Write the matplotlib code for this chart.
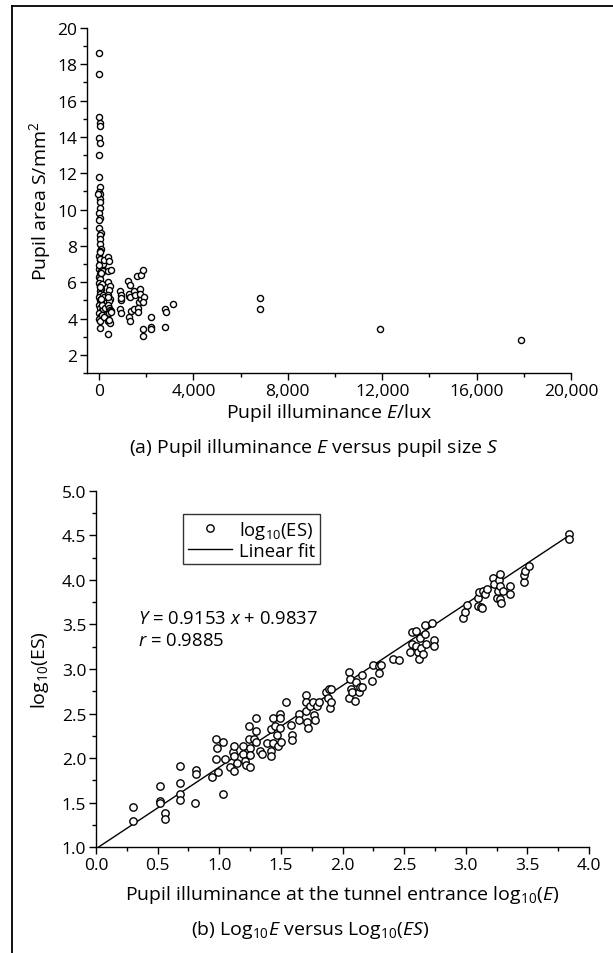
import matplotlib
matplotlib.use("Agg")
import matplotlib.pyplot as plt
from matplotlib.ticker import MultipleLocator, FuncFormatter
from matplotlib.lines import Line2D

plt.rcParams['font.family'] = ['Open Sans', 'DejaVu Sans']
plt.rcParams['mathtext.fontset'] = 'custom'
plt.rcParams['mathtext.rm'] = 'Open Sans'
plt.rcParams['mathtext.it'] = 'Open Sans:italic'
plt.rcParams['mathtext.bf'] = 'Open Sans:bold'

# ---------------- Panel (a): pupil illuminance E vs pupil area S ----------------
illum_E = [
    0, 0, 0, 20, 40, 0, 30, 0, 10, 50, 0, 60, 30, -40, 40, 20, 0, 60, 10, 0,
    70, 20, 40, 60, 90, 30, 0, 50, 100, 20, 0, 80, 40, 120, 10, 60, 150, 0, 30, 90,
    20, 130, 50, 0, 100, 160, 30, 70, 0, 200, 50, 110, 10, 80, 170, 0, 40, 140, 60, 20,
    100, 180, 0, 130, 220, 30, 190, 260, 50, 80,
    380, 420, 400, 500, 390, 450, 420, 400, 460, 430, 390, 410, 480, 440, 520, 380, 470, 500, 420, 400, 390,
    900, 930, 910, 900, 940, 920,
    1240, 1300, 1260, 1340, 1280, 1300, 1250, 1320,
    1480, 1490, 1520,
    1620, 1760, 1720, 1800, 1700, 1660, 1640, 1780, 1750,
    1880, 1900, 1870, 1880, 1880,
    2190, 2200, 2210,
    2810, 2820, 2800, 3150,
    6830, 6840,
    11900, 17880,
]
pupil_S = [
    18.65, 17.45, 15.12, 14.77, 14.62, 13.92, 13.66, 13.02, 11.77, 11.22, 10.97, 10.85, 10.61, 10.85, 10.39, 10.11, 9.83, 9.56, 9.43, 9.0,
    8.73, 8.58, 8.36, 8.08, 7.85, 7.71, 7.44, 7.25, 7.07, 6.88, 6.75, 6.62, 6.45, 6.85, 6.3, 6.15, 6.6, 5.95, 5.8, 5.65,
    5.5, 5.9, 5.35, 5.2, 5.1, 5.3, 5.0, 4.85, 4.75, 5.2, 4.6, 4.45, 4.3, 4.15, 4.5, 4.0, 3.85, 4.2, 3.5, 7.3,
    6.5, 7.0, 6.95, 4.75, 7.2, 7.65, 4.1, 4.6, 5.75, 5.05,
    7.4, 7.15, 6.6, 6.7, 6.0, 5.8, 5.55, 5.3, 5.1, 4.95, 4.75, 4.6, 4.45, 4.3, 4.4, 3.85, 3.75, 4.35, 3.9, 3.15, 5.2,
    5.5, 5.3, 5.0, 4.5, 4.3, 5.15,
    6.05, 5.85, 5.25, 4.4, 4.1, 3.85, 5.35, 5.2,
    5.5, 4.5, 5.3,
    6.35, 6.4, 5.6, 5.2, 4.9, 4.6, 4.35, 5.05, 5.35,
    6.7, 5.2, 4.9, 3.4, 3.05,
    4.1, 3.55, 3.4,
    4.55, 4.35, 3.55, 4.8,
    5.15, 4.5,
    3.44, 2.82,
]

# ---------------- Panel (b): log10(E) vs log10(ES) ----------------
log_E = [
    0.30, 0.30, 0.52, 0.52, 0.52, 0.56, 0.56, 0.68, 0.68, 0.68, 0.68, 0.80, 0.81, 0.81,
    0.94, 0.97, 0.97, 0.98, 0.99, 1.03, 1.03, 1.05, 1.09, 1.11, 1.12, 1.12, 1.12, 1.14,
    1.19, 1.19, 1.21, 1.22, 1.24, 1.24, 1.25, 1.25, 1.25, 1.28, 1.30, 1.30, 1.30, 1.33, 1.35,
    1.39, 1.42, 1.42, 1.42, 1.44, 1.44, 1.45, 1.47, 1.48, 1.49, 1.49, 1.49, 1.50,
    1.54, 1.58, 1.59, 1.59, 1.65, 1.65, 1.70, 1.70, 1.70, 1.71, 1.72, 1.74, 1.76, 1.77, 1.78,
    1.79, 1.81, 1.87, 1.88, 1.89, 1.90, 1.91, 1.91,
    2.05, 2.05, 2.06, 2.07, 2.08, 2.10, 2.11, 2.13, 2.14, 2.16, 2.16,
    2.24, 2.25, 2.30, 2.30, 2.31, 2.41, 2.46,
    2.55, 2.56, 2.56, 2.60, 2.60, 2.61, 2.62, 2.63, 2.64, 2.65, 2.67, 2.67, 2.68, 2.73, 2.74, 2.74,
    2.98, 2.99, 3.01,
    3.10, 3.10, 3.11, 3.12, 3.13, 3.14, 3.16, 3.17,
    3.22, 3.23, 3.25, 3.26, 3.27, 3.28, 3.28, 3.28, 3.29, 3.30,
    3.36, 3.36, 3.47, 3.47, 3.48, 3.51,
    3.84, 3.84,
]
log_ES = [
    1.455, 1.29, 1.69, 1.52, 1.50, 1.39, 1.32, 1.91, 1.72, 1.60, 1.53, 1.50, 1.87, 1.82,
    1.79, 2.22, 1.99, 2.11, 1.84, 2.18, 1.60, 1.99, 1.90, 2.07, 1.86, 2.14, 2.02, 1.95,
    2.14, 2.05, 1.97, 1.92, 2.36, 2.22, 2.11, 1.90, 2.03, 2.22, 2.45, 2.31, 2.18, 2.08, 2.05,
    2.17, 2.33, 2.08, 2.02, 2.45, 2.17, 2.36, 2.26, 2.14, 2.50, 2.45, 2.34, 2.18,
    2.63, 2.37, 2.26, 2.20, 2.50, 2.43, 2.71, 2.63, 2.53, 2.40, 2.34, 2.58, 2.63, 2.48, 2.43,
    2.58, 2.63, 2.74, 2.67, 2.78, 2.56, 2.78, 2.63,
    2.97, 2.67, 2.89, 2.78, 2.74, 2.64, 2.85, 2.74, 2.80, 2.93, 2.80,
    2.87, 3.04, 3.03, 2.96, 3.04, 3.11, 3.10,
    3.19, 3.41, 3.28, 3.43, 3.26, 3.19, 3.11, 3.35, 3.24, 3.17, 3.49, 3.39, 3.28, 3.52, 3.33, 3.26,
    3.57, 3.64, 3.72,
    3.71, 3.80, 3.86, 3.69, 3.68, 3.88, 3.84, 3.90,
    4.02, 3.95, 3.80, 3.88, 4.00, 4.07, 3.93, 3.79, 3.74, 3.87,
    3.93, 3.84, 3.98, 4.05, 4.10, 4.16,
    4.51, 4.46,
]

fit_slope = 0.9153
fit_intercept = 0.9837
fit_r = 0.9885
fit_x_range = [0.0, 3.82]

fig = plt.figure(figsize=(6.13, 9.54), dpi=100)

W, H = 613.0, 954.0
fig.add_artist(Line2D([12 / W, 1.0], [1 - 7 / H, 1 - 7 / H], transform=fig.transFigure,
                      color='black', lw=1.3))
fig.add_artist(Line2D([12 / W, 12 / W], [1 - 7 / H, 0.0], transform=fig.transFigure,
                      color='black', lw=1.3))

TFS = 12.5   # tick labels
LFS = 14.0   # labels / captions
NFS = 13.3   # legend / annotation

def style_axes(ax):
    for s in ['top', 'right']:
        ax.spines[s].set_visible(False)
    for s in ['left', 'bottom']:
        ax.spines[s].set_linewidth(1.0)
    ax.tick_params(which='major', direction='out', length=5, width=1.0, labelsize=TFS, pad=2)
    ax.tick_params(which='minor', direction='out', length=3, width=1.0)

# ---- panel a ----
a_l, a_r, a_t, a_b = 87, 571, 29, 374
axa = fig.add_axes([a_l / W, 1 - a_b / H, (a_r - a_l) / W, (a_b - a_t) / H])
axa.plot(illum_E, pupil_S, linestyle='none', marker='o', markersize=4.4,
         markerfacecolor='white', markeredgecolor='black', markeredgewidth=1.0, clip_on=False)
axa.set_xlim(-510, 20000)
axa.set_ylim(1, 20)
axa.xaxis.set_major_locator(MultipleLocator(4000))
axa.xaxis.set_minor_locator(MultipleLocator(2000))
axa.yaxis.set_minor_locator(MultipleLocator(1))
axa.set_yticks([2, 4, 6, 8, 10, 12, 14, 16, 18, 20])
axa.xaxis.set_major_formatter(FuncFormatter(lambda v, p: f"{int(v):,}"))
style_axes(axa)
axa.set_xlabel("Pupil illuminance $E$/lux", fontsize=LFS)
axa.set_ylabel("Pupil area S/mm$^2$", fontsize=LFS)
axa.xaxis.set_label_coords(0.5, (a_b - 413) / (a_b - a_t))
axa.yaxis.set_label_coords((40 - a_l) / (a_r - a_l), 0.5)
axa.xaxis.label.set_va('center')
axa.yaxis.label.set_va('center')
fig.text(314 / W, 1 - 448 / H, "(a) Pupil illuminance $E$ versus pupil size $S$",
         ha='center', va='center', fontsize=LFS)

# ---- panel b ----
b_l, b_r, b_t, b_b = 96, 589, 491.7, 848.3
axb = fig.add_axes([b_l / W, 1 - b_b / H, (b_r - b_l) / W, (b_b - b_t) / H])
axb.plot(log_E, log_ES, linestyle='none', marker='o', markersize=5.3,
         markerfacecolor='white', markeredgecolor='black', markeredgewidth=1.0,
         label='log$_{10}$(ES)', clip_on=False, zorder=3)
fx = fit_x_range
fy = [fit_slope * v + fit_intercept for v in fx]
axb.plot(fx, fy, color='black', lw=1.0, label='Linear fit', zorder=2)
axb.set_xlim(0, 4)
axb.set_ylim(1, 5)
axb.xaxis.set_major_locator(MultipleLocator(0.5))
axb.xaxis.set_minor_locator(MultipleLocator(0.25))
axb.yaxis.set_major_locator(MultipleLocator(0.5))
axb.yaxis.set_minor_locator(MultipleLocator(0.25))
axb.xaxis.set_major_formatter(FuncFormatter(lambda v, p: f"{v:.1f}"))
axb.yaxis.set_major_formatter(FuncFormatter(lambda v, p: f"{v:.1f}"))
style_axes(axb)
axb.set_xlabel("Pupil illuminance at the tunnel entrance log$_{10}$($E$)", fontsize=LFS)
axb.set_ylabel("log$_{10}$(ES)", fontsize=LFS)
axb.xaxis.set_label_coords(0.5, (b_b - 895) / (b_b - b_t))
axb.yaxis.set_label_coords((40 - b_l) / (b_r - b_l), 0.5)
axb.xaxis.label.set_va('center')
axb.yaxis.label.set_va('center')
leg = axb.legend(loc='upper left',
                 bbox_to_anchor=((183 - b_l) / (b_r - b_l), (b_b - 515) / (b_b - b_t)),
                 frameon=True, fancybox=False, fontsize=NFS, handlelength=2.4,
                 borderpad=0.25, labelspacing=0.05, handletextpad=0.4, borderaxespad=0)
leg.get_frame().set_edgecolor('black')
leg.get_frame().set_linewidth(1.0)
axb.text((138 - b_l) / (b_r - b_l), (b_b - 619) / (b_b - b_t),
         f"$Y$ = {fit_slope} $x$ + {fit_intercept}", transform=axb.transAxes,
         ha='left', va='center', fontsize=NFS)
axb.text((138 - b_l) / (b_r - b_l), (b_b - 641) / (b_b - b_t),
         f"$r$ = {fit_r}", transform=axb.transAxes, ha='left', va='center', fontsize=NFS)
fig.text(310 / W, 1 - 930 / H, "(b) Log$_{10}$$E$ versus Log$_{10}$($ES$)",
         ha='center', va='center', fontsize=LFS)

fig.savefig("out.png", dpi=100)
